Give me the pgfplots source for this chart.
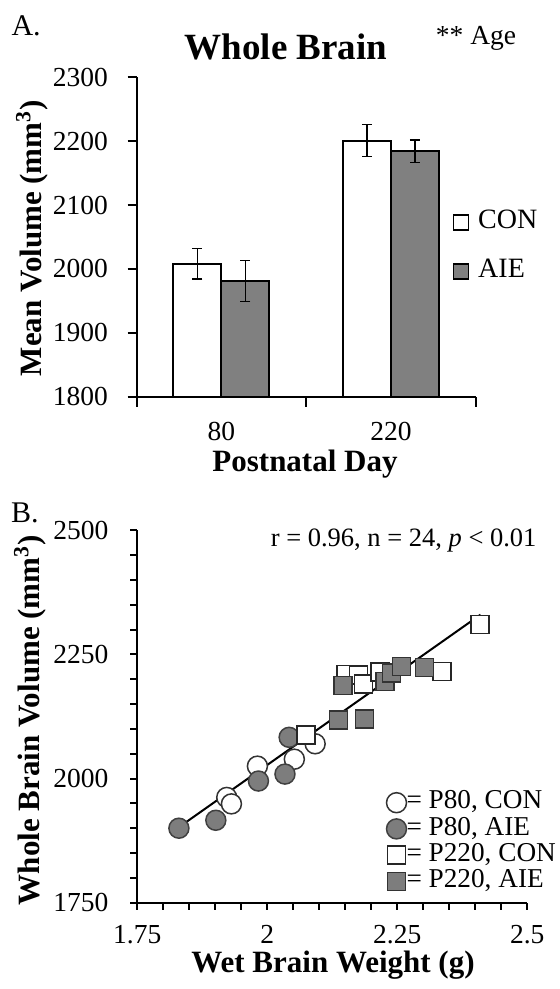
\documentclass[border=0pt]{standalone}
\usepackage{pgfplots}
\pgfplotsset{compat=1.18}
\usepackage{fontspec}
\setmainfont{Liberation Serif}
\definecolor{bargray}{RGB}{128,128,128}
\definecolor{mkgray}{RGB}{125,125,125}
\newcommand\fs[1]{\fontsize{#1}{#1}\selectfont}
\pgfplotsset{
  barleg/.style={legend image code/.code={\draw[##1, line width=0.6pt] (0pt,-3pt) rectangle (6pt,3pt);}},
  scleg/.style={legend image code/.code={\draw[##1] plot coordinates {(4.3pt,0pt)};}},
}
\begin{document}
\begin{tikzpicture}
\path[use as bounding box] (0pt,0pt) rectangle (224pt,-395.6pt);

% ---------------- Panel A ----------------
\begin{axis}[
  at={(54.68pt,-158.68pt)}, anchor=south west,
  scale only axis, width=135.6pt, height=127.76pt,
  xmin=-0.5, xmax=1.5, ymin=1800, ymax=2300,
  axis x line*=bottom, axis y line*=left,
  axis line style={line width=0.8pt},
  ytick={1800,1900,2000,2100,2200,2300},
  xtick={0,1}, xticklabels={80,220},
  major x tick style={draw=none},
  minor xtick={-0.5,0.5,1.5},
  tick align=outside,
  major tick length=3.6pt, minor tick length=4pt,
  tick style={line width=0.8pt, black},
  tick label style={font=\fs{11}},
  xticklabel shift=3pt, yticklabel shift=4.4pt,
  /pgf/number format/assume math mode=true,
  /pgf/number format/1000 sep={},
  ybar=0pt, bar width=19.2pt,
  barleg,
  legend style={draw=none, fill=none, at={(0.933,0.468)}, anchor=west,
    inner sep=0pt, outer sep=0pt, row sep=9.6pt, font=\fs{11.2},
    nodes={inner sep=0pt, text height=7.5pt, text depth=2.5pt},
    /tikz/every odd column/.style={column sep=3.5pt}},
  legend cell align=left,
  error bars/error bar style={line width=0.6pt, black},
  error bars/error mark options={rotate=90, mark size=2pt, line width=0.6pt, black},
]
\addplot[draw=black, fill=white, line width=0.8pt, barleg,
  error bars/.cd, y dir=both, y explicit]
  coordinates {(0,2008) +- (0,24) (1,2201) +- (0,25)};
\addplot[draw=black, fill=bargray, line width=0.8pt, barleg,
  error bars/.cd, y dir=both, y explicit]
  coordinates {(0,1981) +- (0,32) (1,2184) +- (0,17.5)};
\legend{CON,AIE}
\end{axis}

% ---------------- Panel B ----------------
\begin{axis}[
  at={(54.92pt,-361.08pt)}, anchor=south west,
  scale only axis, width=156pt, height=149pt,
  xmin=1.75, xmax=2.5, ymin=1750, ymax=2500,
  axis x line*=bottom, axis y line*=left,
  axis line style={line width=0.8pt},
  xtick={1.75,2,2.25,2.5}, xticklabels={1.75,2,2.25,2.5},
  minor xtick={1.8,1.85,1.9,1.95,2.05,2.1,2.15,2.2,2.3,2.35,2.4,2.45},
  ytick={1750,2000,2250,2500},
  minor ytick={1800,1850,1900,1950,2050,2100,2150,2200,2300,2350,2400,2450},
  tick align=outside,
  major tick length=2.8pt, minor tick length=2.8pt,
  tick style={line width=0.8pt, black},
  tick label style={font=\fs{11}},
  xticklabel shift=2.6pt, yticklabel shift=5.2pt,
  /pgf/number format/assume math mode=true,
  /pgf/number format/1000 sep={},
  legend style={draw=none, fill=none, at={(0.639,0.163)}, anchor=west,
    inner sep=0pt, outer sep=0pt, row sep=0.48pt, font=\fs{10.9},
    nodes={inner sep=0pt, text height=7.5pt, text depth=2.5pt},
    /tikz/every odd column/.style={column sep=0pt}},
  legend cell align=left,
]
\addplot[only marks, mark=*, mark size=4pt,
  mark options={fill=white, draw=black!80, line width=0.6pt}, scleg]
  coordinates {(1.922,1962) (1.931,1949) (1.981,2025) (2.052,2039) (2.092,2070)};
\addplot[only marks, mark=*, mark size=4pt,
  mark options={fill=mkgray, draw=black!75, line width=0.6pt}, scleg]
  coordinates {(1.830,1900) (1.901,1916) (1.983,1995) (2.034,2009) (2.042,2083)};
\addplot[only marks, mark=square*, mark size=3.6pt,
  mark options={fill=white, draw=black!85, line width=0.6pt}, scleg]
  coordinates {(2.074,2088) (2.151,2210) (2.175,2208) (2.185,2190) (2.217,2215) (2.336,2216) (2.409,2310)};
\addplot[only marks, mark=square*, mark size=3.6pt,
  mark options={fill=mkgray, draw=black!80, line width=0.6pt}, scleg]
  coordinates {(2.137,2118) (2.187,2120) (2.146,2187) (2.226,2195) (2.239,2213) (2.258,2226) (2.302,2224)};
\addplot[black, line width=0.8pt, forget plot] coordinates {(1.830,1902) (2.410,2330)};
\legend{{= P80, CON},{= P80, AIE},{= P220, CON},{= P220, AIE}}
\end{axis}

% ---------------- Texts ----------------
\node[anchor=west, inner sep=0pt, font=\fs{12}] at (4.4pt,-10.4pt) {A.};
\node[inner sep=0pt, font=\bfseries\fs{14.8}] at (114.4pt,-18.8pt) {Whole Brain};
\node[inner sep=0pt, font=\fs{11}] at (190.4pt,-15.2pt) {** Age};
\node[inner sep=0pt, rotate=90, font=\bfseries\fs{12.4}] at (12.8pt,-95.2pt) {Mean Volume (mm\textsuperscript{3})};
\node[inner sep=0pt, font=\bfseries\fs{12.4}] at (122pt,-185.6pt) {Postnatal Day};
\node[anchor=west, inner sep=0pt, font=\fs{12}] at (4.2pt,-205pt) {B.};
\node[anchor=east, inner sep=0pt, font=\fs{10.6}] at (214.8pt,-216.4pt) {r = 0.96, n = 24, \textit{p} < 0.01};
\node[inner sep=0pt, rotate=90, font=\bfseries\fs{12.4}] at (12pt,-288pt) {Whole Brain Volume (mm\textsuperscript{3})};
\node[inner sep=0pt, font=\bfseries\fs{12.4}] at (133.2pt,-386.2pt) {Wet Brain Weight (g)};
\end{tikzpicture}
\end{document}
